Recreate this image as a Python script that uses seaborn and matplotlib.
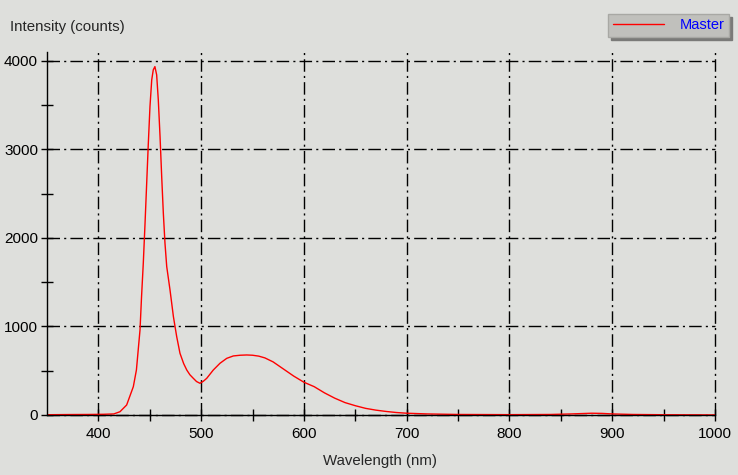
import numpy as np
import pandas as pd
import matplotlib
matplotlib.use("Agg")
import matplotlib.pyplot as plt
import seaborn as sns

# Spectrum (wavelength in nm, intensity in counts)
wavelength = [350, 370, 390, 405, 415, 421, 427.5, 434, 437, 440.5, 442, 443.7,
              445.4, 447, 448.6, 450.2, 451.9, 453.4, 455, 456.7, 458.3, 460,
              461.6, 463.2, 464.8, 466.5, 469.7, 473, 476.2, 479.4, 483, 486,
              489, 492.4, 495.5, 498.9, 502, 505.4, 511.8, 518.3, 524.9, 531.3,
              538, 544.3, 550, 556, 562, 570, 580, 590, 600, 610, 620, 630,
              640, 650, 660, 670, 680, 690, 700, 720, 750, 800, 840, 860, 880,
              890, 900, 920, 950, 1000]
intensity = [3, 5, 6, 8, 12, 37, 113, 320, 508, 960, 1337, 1715,
             2166, 2618, 3070, 3484, 3785, 3898, 3935, 3842, 3559, 3145,
             2693, 2279, 1940, 1676, 1412, 1111, 885, 697, 580, 508,
             455, 414, 378, 358, 380, 414, 508, 584, 640, 667,
             675, 678, 675, 665, 645, 600, 520, 440, 370, 320, 250, 190,
             140, 105, 75, 55, 40, 28, 20, 12, 6, 4, 6, 12, 20,
             18, 12, 6, 3, 1]

x_ticks = [400, 500, 600, 700, 800, 900, 1000]
y_ticks = [0, 1000, 2000, 3000, 4000]
series_name = "Master"

bg = "#dedfdc"
sns.set_style("ticks")
plt.rcParams["font.family"] = ["Liberation Sans", "DejaVu Sans"]

df = pd.DataFrame({"wavelength": wavelength, "intensity": intensity})

fig = plt.figure(figsize=(7.38, 4.75), dpi=100, facecolor=bg)
ax = fig.add_axes([47 / 738, 1 - 415 / 475, (715 - 47) / 738, (415 - 52) / 475])
ax.set_facecolor(bg)

sns.lineplot(data=df, x="wavelength", y="intensity", color="red", lw=1.0,
             label=series_name, ax=ax, legend=False)

ax.set_xlim(350, 1000)
ax.set_ylim(0, 4100)
ax.set_xticks(x_ticks)
ax.set_yticks(y_ticks)
ax.set_xticks(np.arange(450, 1000, 100), minor=True)
ax.set_yticks(np.arange(500, 4000, 1000), minor=True)
ax.tick_params(which="both", direction="inout", length=9, width=1, colors="black",
               labelsize=11)
ax.tick_params(axis="x", pad=4)
ax.tick_params(axis="y", pad=2)

ax.grid(True, which="major", color="black", lw=1.0, linestyle=(0, (9, 3, 1.5, 3)))
for gl in ax.get_xgridlines() + ax.get_ygridlines():
    gl.set_clip_on(False)
for s in ["top", "right"]:
    ax.spines[s].set_visible(False)
for s in ["left", "bottom"]:
    ax.spines[s].set_color("black")
    ax.spines[s].set_linewidth(1.0)

ax.set_xlabel("")
ax.set_ylabel("")
fig.text(380 / 738, 1 - 461 / 475, "Wavelength (nm)", ha="center", va="center", fontsize=10.8)
fig.text(10 / 738, 1 - 27 / 475, "Intensity (counts)", ha="left", va="center", fontsize=10.8)

# legend box in the top right corner
h, l = ax.get_legend_handles_labels()
leg = fig.legend(h, l, loc="upper right", bbox_to_anchor=(729 / 738, 1 - 14 / 475),
                 frameon=True, fancybox=False, shadow={"color": "#7a7a78", "alpha": 1},
                 facecolor="#c0c0bc", edgecolor="#a8a8a4", framealpha=1, fontsize=10.5,
                 handlelength=3.5, handletextpad=1.1, borderpad=0.3, borderaxespad=0)
leg.get_texts()[0].set_color("blue")

fig.savefig("out.png", dpi=100, facecolor=bg)
